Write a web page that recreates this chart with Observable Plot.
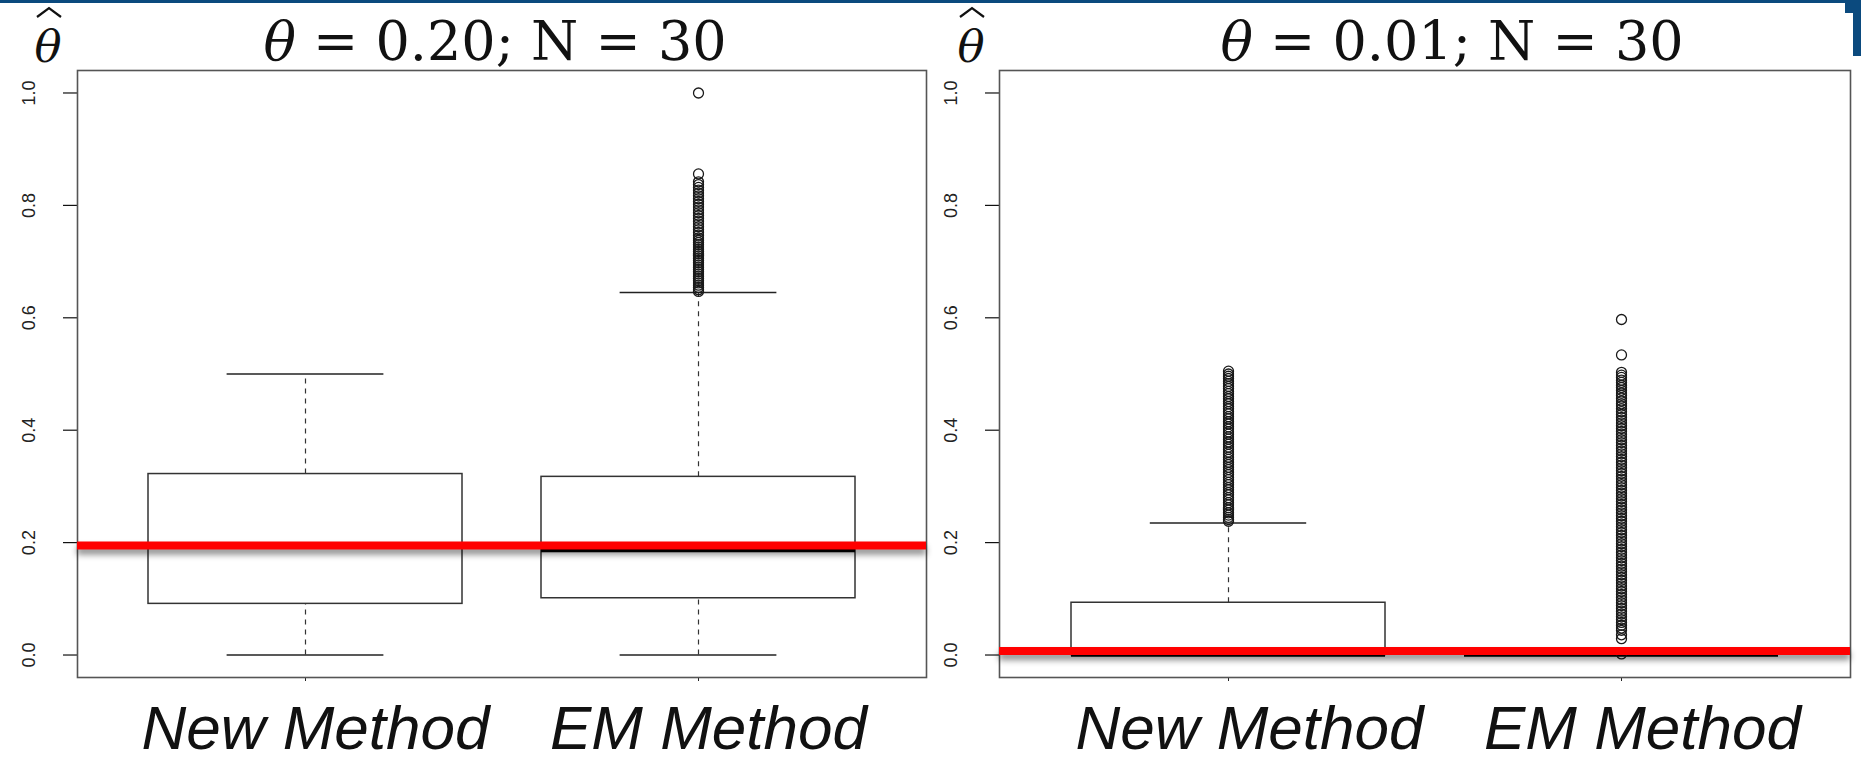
<!DOCTYPE html>
<html>
<head>
<meta charset="utf-8">
<script src="https://cdn.jsdelivr.net/npm/d3@7"></script>
<script src="https://cdn.jsdelivr.net/npm/@observablehq/plot@0.6"></script>
<style>
  html, body { margin: 0; padding: 0; background: #fff; }
  #wrap { position: relative; width: 1861px; height: 762px; overflow: hidden; background: #fff; }
  #wrap > .panel { position: absolute; top: 0; }
  #overlay { position: absolute; left: 0; top: 0; pointer-events: none; }
  .bar { position: absolute; background: #0b4a7e; }
</style>
</head>
<body>
<div id="wrap">
  <div class="bar" style="left:0;top:0;width:1861px;height:3px"></div>
  <div class="bar" style="left:1845px;top:0;width:16px;height:13px"></div>
  <div class="bar" style="left:1853px;top:0;width:8px;height:56px"></div>
  <div id="left" class="panel" style="left:0"></div>
  <div id="right" class="panel" style="left:930px"></div>
  <svg id="overlay" width="1861" height="762"></svg>
</div>
<script>
// ---------------- data ----------------
const methods = ["New Method", "EM Method"];
const yTicks = [0, 0.2, 0.4, 0.6, 0.8, 1.0];
const thetaTitles = ["0.20", "0.01"];
const nTitle = "30";

// panel A: theta = 0.20
const lowA  = [0, 0];
const q1A   = [0.091, 0.101];
const medA  = [0.197, 0.186];
const q3A   = [0.322, 0.317];
const highA = [0.500, 0.645];
const outA_new = [];
const outA_em = [1.0, 0.856, 0.842, 0.837, 0.832, 0.827, 0.822, 0.817, 0.812, 0.807, 0.802, 0.797,
  0.792, 0.787, 0.782, 0.777, 0.772, 0.767, 0.762, 0.757, 0.752, 0.747, 0.742, 0.738, 0.734, 0.730,
  0.726, 0.722, 0.718, 0.714, 0.710, 0.706, 0.702, 0.698, 0.694, 0.690, 0.686, 0.682, 0.678, 0.674,
  0.670, 0.666, 0.662, 0.658, 0.654, 0.650, 0.647];
const lineA = 0.195;

// panel B: theta = 0.01
const lowB  = [0, 0];
const q1B   = [0, 0];
const medB  = [0, 0];
const q3B   = [0.093, 0];
const highB = [0.235, 0];
const outB_new = [0.505, 0.500, 0.496, 0.492, 0.487, 0.483, 0.478, 0.474, 0.469, 0.465, 0.460, 0.456,
  0.451, 0.447, 0.442, 0.438, 0.433, 0.429, 0.424, 0.420, 0.415, 0.411, 0.406, 0.402, 0.397, 0.393,
  0.388, 0.384, 0.379, 0.375, 0.370, 0.366, 0.361, 0.357, 0.352, 0.348, 0.343, 0.339, 0.334, 0.330,
  0.325, 0.321, 0.316, 0.312, 0.307, 0.303, 0.298, 0.294, 0.289, 0.285, 0.280, 0.276, 0.271, 0.267,
  0.262, 0.258, 0.253, 0.249, 0.245, 0.241, 0.238];
const outB_em = [0.597, 0.534, 0.503, 0.498, 0.494, 0.489, 0.485, 0.480, 0.476, 0.471, 0.466, 0.462,
  0.457, 0.452, 0.447, 0.443, 0.438, 0.433, 0.428, 0.423, 0.418, 0.413, 0.408, 0.403, 0.398, 0.393,
  0.388, 0.383, 0.378, 0.373, 0.368, 0.363, 0.358, 0.353, 0.348, 0.343, 0.338, 0.333, 0.328, 0.323,
  0.318, 0.313, 0.308, 0.303, 0.298, 0.293, 0.288, 0.283, 0.278, 0.273, 0.268, 0.263, 0.258, 0.253,
  0.248, 0.243, 0.238, 0.233, 0.228, 0.223, 0.218, 0.213, 0.208, 0.203, 0.198, 0.193, 0.188, 0.183,
  0.178, 0.173, 0.168, 0.163, 0.158, 0.153, 0.148, 0.143, 0.138, 0.133, 0.128, 0.123, 0.118, 0.113,
  0.108, 0.103, 0.098, 0.093, 0.088, 0.083, 0.078, 0.073, 0.068, 0.063, 0.058, 0.053, 0.048, 0.044,
  0.036, 0.029, 0.002];
const lineB = 0.007;

// ---------------- drawing ----------------
const H = 762;
const font = "'Liberation Sans', Arial, sans-serif";

function makePanel({width, marginLeft, marginRight, low, q1, med, q3, high, outNew, outEm, line, labelDx}) {
  const stats = methods.map((m, i) => ({method: m, lo: low[i], q1: q1[i], med: med[i], q3: q3[i], hi: high[i]}));
  const outliers = [
    ...outNew.map(v => ({method: methods[0], value: v})),
    ...outEm.map(v => ({method: methods[1], value: v}))
  ];
  const fw = width - marginLeft - marginRight;
  const band = fw / 2.16 * 0.8;
  const capInset = band / 4;
  const svg = Plot.plot({
    width, height: H, marginLeft, marginRight, marginTop: 70, marginBottom: 85,
    style: {background: "transparent", fontFamily: font, fontSize: "18px", overflow: "visible"},
    x: {type: "band", domain: methods, paddingInner: 0.2, paddingOuter: 0.18, axis: null},
    y: {domain: [-0.04, 1.04], axis: null},
    marks: [
      // y ticks and rotated labels
      Plot.ruleY(yTicks, {y: d => d, insetLeft: -14, insetRight: fw, stroke: "#111", strokeWidth: 1.2}),
      Plot.text(yTicks, {y: d => d, frameAnchor: "left", dx: -48, rotate: -90, text: d3.format(".1f"),
        textAnchor: "middle", lineAnchor: "middle", fontSize: 18, fontFamily: font, fill: "#222"}),
      // x ticks (labels drawn below)
      Plot.axisX({tickSize: 4, tickFormat: () => "", stroke: "#222", strokeOpacity: 1, label: null}),
      Plot.ruleX(stats, {x: "method", y1: "q3", y2: "hi", stroke: "#333", strokeWidth: 1.2, strokeDasharray: "5,5"}),
      Plot.ruleX(stats, {x: "method", y1: "lo", y2: "q1", stroke: "#333", strokeWidth: 1.2, strokeDasharray: "5,5"}),
      Plot.tickY(stats, {x: "method", y: "hi", stroke: "#222", strokeWidth: 1.4, insetLeft: capInset, insetRight: capInset}),
      Plot.tickY(stats, {x: "method", y: "lo", stroke: "#222", strokeWidth: 1.4, insetLeft: capInset, insetRight: capInset}),
      Plot.barY(stats, {x: "method", y1: "q1", y2: "q3", fill: "white", stroke: "#333", strokeWidth: 1.5}),
      Plot.tickY(stats, {x: "method", y: "med", stroke: "#000", strokeWidth: 3.5}),
      Plot.dot(outliers, {x: "method", y: "value", r: 5, stroke: "#1a1a1a", strokeWidth: 1.3, fill: "none"}),
      Plot.frame({stroke: "#555", strokeWidth: 1.6}),
      Plot.ruleY([line], {stroke: "#ff0000", strokeWidth: 8}),
      Plot.text(methods, {x: d => d, frameAnchor: "bottom", dy: 27, dx: labelDx, lineAnchor: "top",
        fontSize: 62, fontStyle: "italic", fontFamily: font, fill: "#111"})
    ]
  });
  // shadow under the red reference line
  svg.querySelectorAll("g[aria-label='rule']").forEach(g => {
    if ((g.getAttribute("stroke") || "").toLowerCase() === "#ff0000") {
      g.style.filter = "drop-shadow(0px 5px 3px rgba(0,0,0,0.45))";
    }
  });
  return svg;
}

document.getElementById("left").appendChild(makePanel({
  width: 930, marginLeft: 77, marginRight: 4,
  low: lowA, q1: q1A, med: medA, q3: q3A, high: highA, outNew: outA_new, outEm: outA_em,
  line: lineA, labelDx: 10
}));
document.getElementById("right").appendChild(makePanel({
  width: 931, marginLeft: 69, marginRight: 11,
  low: lowB, q1: q1B, med: medB, q3: q3B, high: highB, outNew: outB_new, outEm: outB_em,
  line: lineB, labelDx: 21
}));

// titles and the theta-hat axis symbol
const ov = d3.select("#overlay");
[[495, thetaTitles[0]], [1452, thetaTitles[1]]].forEach(([x, t]) => {
  const txt = ov.append("text").attr("x", x).attr("y", 60).attr("text-anchor", "middle")
    .attr("font-family", "'DejaVu Serif', serif").attr("font-size", 54).attr("fill", "#111")
    .style("white-space", "pre");
  txt.append("tspan").attr("font-style", "italic").text("θ");
  txt.append("tspan").text(" = " + t + "; N = " + nTitle);
});
[48, 971].forEach(x => {
  ov.append("text").attr("x", x).attr("y", 62).attr("text-anchor", "middle")
    .attr("aria-label", "θ̂")
    .attr("font-family", "'DejaVu Serif', serif").attr("font-style", "italic").attr("font-size", 45)
    .attr("fill", "#111").text("θ");
  // circumflex accent over theta
  ov.append("path")
    .attr("d", `M${x - 11},17 L${x + 1},8 L${x + 13},17`)
    .attr("fill", "none").attr("stroke", "#111").attr("stroke-width", 2.2)
    .attr("stroke-linejoin", "miter");
});
</script>
</body>
</html>
